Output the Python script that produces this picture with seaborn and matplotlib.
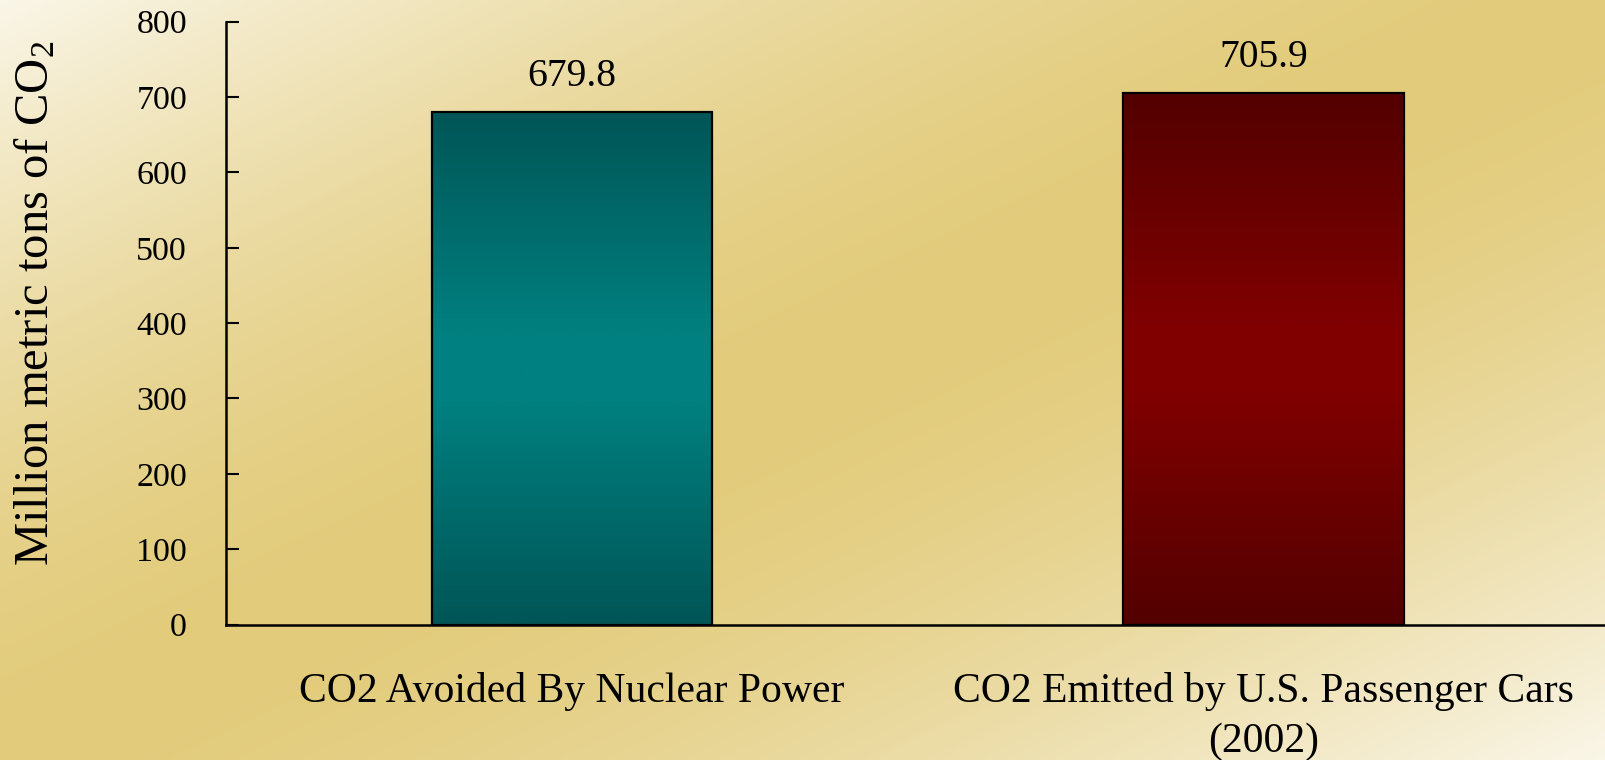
import numpy as np
import pandas as pd
import matplotlib
matplotlib.use("Agg")
import matplotlib.pyplot as plt
import seaborn as sns
from matplotlib.colors import LinearSegmentedColormap

# Data
categories = ["CO2 Avoided By Nuclear Power",
              "CO2 Emitted by U.S. Passenger Cars\n(2002)"]
values = [679.8, 705.9]
y_ticks = [0, 100, 200, 300, 400, 500, 600, 700, 800]

# Bar shading: edge (dark) and centre (light) tones
bar_dark = ["#005556", "#530000"]
bar_light = ["#008080", "#800000"]

sns.set_theme(style="ticks")
plt.rcParams["font.family"] = ["Liberation Serif", "DejaVu Serif"]
plt.rcParams["mathtext.fontset"] = "custom"
plt.rcParams["mathtext.rm"] = "Liberation Serif"
plt.rcParams["mathtext.it"] = "Liberation Serif:italic"

W, H = 1606, 760
fig = plt.figure(figsize=(W / 100, H / 100), dpi=100)

# Diagonal cream-to-gold backdrop
bg = fig.add_axes([0, 0, 1, 1], zorder=-10)
ny, nx = 190, 400
yy, xx = np.mgrid[0:1:ny * 1j, 0:1:nx * 1j]
s = np.clip(np.abs(xx + yy - 1.0), 0, 1) ** 1.6
gold = np.array([226, 203, 122]) / 255
cream = np.array([250, 246, 232]) / 255
rgb = gold[None, None, :] * (1 - s[..., None]) + cream[None, None, :] * s[..., None]
bg.imshow(rgb, aspect="auto", extent=[0, 1, 0, 1], origin="upper",
          interpolation="bilinear")
bg.set_axis_off()

# Main axes
ax = fig.add_axes([226 / W, (H - 624.5) / H, 1383.4 / W, 602.8 / H])
ax.patch.set_alpha(0)

df = pd.DataFrame({"source": categories, "co2": values})
sns.barplot(data=df, x="source", y="co2", hue="source", palette=bar_light,
            width=0.405, edgecolor="black", linewidth=1.6, saturation=1,
            legend=False, ax=ax)

# Vertical shading inside each bar, clipped to the bar outline
t = np.linspace(0, 1, 256)
prof = np.clip((1 - np.abs(2 * t - 1)) * 1.15, 0, 1)
for patch, value, dark, light in zip(ax.patches, values, bar_dark, bar_light):
    x0, y0 = patch.get_x(), patch.get_y()
    w, h = patch.get_width(), patch.get_height()
    cmap = LinearSegmentedColormap.from_list("shade", [dark, light])
    img = ax.imshow(prof[:, None], cmap=cmap, vmin=0, vmax=1,
                    extent=[x0, x0 + w, y0, y0 + h], aspect="auto",
                    interpolation="bilinear", zorder=patch.get_zorder() - 0.05)
    img.set_clip_path(patch)
    patch.set_facecolor("none")
    ax.annotate(f"{value:.1f}", xy=(x0 + w / 2, y0 + h), xytext=(0, 18.7),
                textcoords="offset points", ha="center", va="baseline",
                fontsize=28.5, color="black")

ax.set_xlim(-0.5, 1.5)
ax.set_ylim(0, 800)
ax.set_yticks(y_ticks)
ax.set_yticklabels([str(v) for v in y_ticks])

sns.despine(ax=ax, top=True, right=True)
for side in ("left", "bottom"):
    ax.spines[side].set_color("black")
    ax.spines[side].set_linewidth(1.8)

ax.tick_params(axis="y", direction="in", length=9, width=1.5, color="black",
               pad=28, labelsize=24.5, labelcolor="black")
ax.tick_params(axis="x", length=0, pad=34.5, labelsize=30, labelcolor="black")
for lab in ax.get_xticklabels():
    lab.set_linespacing(1.38)

ax.set_xlabel("")
ax.set_ylabel(r"Million metric tons of CO$_2$", fontsize=35, color="black",
              va="center")
ax.yaxis.set_label_coords(-0.1374, 0.5325)

fig.savefig("out.png", dpi=100)
